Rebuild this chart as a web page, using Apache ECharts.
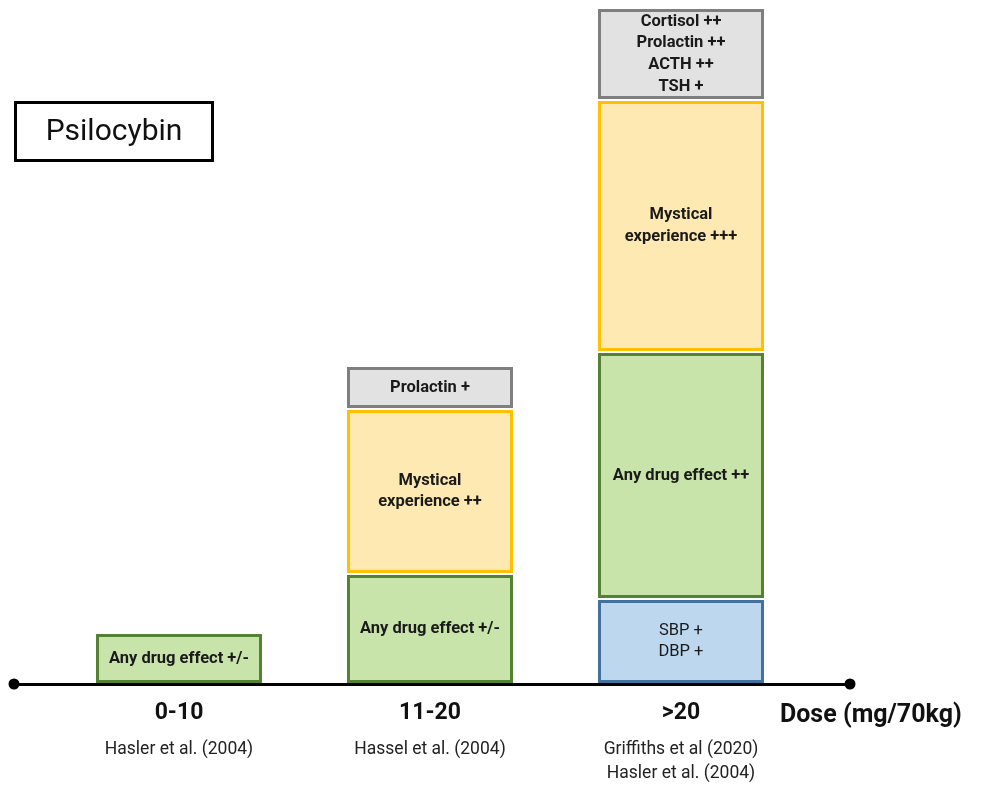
<!DOCTYPE html>
<html>
<head>
<meta charset="utf-8">
<script src="https://cdn.jsdelivr.net/npm/echarts@6/dist/echarts.min.js"></script>
<style>
html,body{margin:0;padding:0;background:#fff;}
#chart{width:983px;height:787px;}
</style>
</head>
<body>
<div id="chart"></div>
<script>
// ---- data ----
const categories = ['0-10', '11-20', '>20'];
const references = ['Hasler et al. (2004)', 'Hassel et al. (2004)', 'Griffiths et al (2020)\nHasler et al. (2004)'];
// stacked box heights (bottom to top), per dose category
const bloodPressure = [0, 0, 85];
const anyDrugEffect = [51, 110, 247];
const mysticalExperience = [0, 165, 252];
const hormones = [0, 43, 92];
const bloodPressureLabels = ['', '', 'SBP +\nDBP +'];
const anyDrugEffectLabels = ['Any drug effect +/-', 'Any drug effect +/-', 'Any drug effect ++'];
const mysticalExperienceLabels = ['', 'Mystical\nexperience ++', 'Mystical\nexperience +++'];
const hormoneLabels = ['', 'Prolactin +', 'Cortisol ++\nProlactin ++\nACTH ++\nTSH +'];
const chartTitle = 'Psilocybin';
const axisName = 'Dose (mg/70kg)';

const FONT = 'Roboto, "DejaVu Sans", sans-serif';
const BAR_W = 168;

const layers = [
  { name: 'Blood pressure', values: bloodPressure, labels: bloodPressureLabels, fill: '#bdd7ee', stroke: '#41719c', weight: 'normal' },
  { name: 'Any drug effect', values: anyDrugEffect, labels: anyDrugEffectLabels, fill: '#c9e4aa', stroke: '#548235', weight: 'bold' },
  { name: 'Mystical experience', values: mysticalExperience, labels: mysticalExperienceLabels, fill: '#fee9b2', stroke: '#ffc000', weight: 'bold' },
  { name: 'Hormones', values: hormones, labels: hormoneLabels, fill: '#e2e2e2', stroke: '#7f7f7f', weight: 'bold' }
];

const cumulative = categories.map(() => 0);
const series = layers.map(layer => {
  const data = [];
  layer.values.forEach((v, i) => {
    if (v > 0) {
      data.push({ value: [i, cumulative[i], cumulative[i] + v], text: layer.labels[i] });
    }
    cumulative[i] += v;
  });
  return {
    type: 'custom',
    name: layer.name,
    xAxisIndex: 0,
    yAxisIndex: 0,
    z: 3,
    data: data,
    renderItem: function (params, api) {
      const i = api.value(0), lo = api.value(1), hi = api.value(2);
      const pLo = api.coord([i, lo]);
      const pHi = api.coord([i, hi]);
      const inset = 2.5;
      const item = data[params.dataIndex];
      return {
        type: 'rect',
        shape: { x: pLo[0] - BAR_W / 2 + inset, y: pHi[1] + inset, width: BAR_W - 2 * inset, height: pLo[1] - pHi[1] - 2 * inset },
        style: { fill: layer.fill, stroke: layer.stroke, lineWidth: 3 },
        textContent: {
          style: { text: item.text, fontFamily: FONT, fontSize: 16.5, fontWeight: layer.weight, fill: '#1a1a1a', align: 'center', lineHeight: 21.7 }
        },
        textConfig: { position: 'inside' }
      };
    }
  };
});

const chart = echarts.init(document.getElementById('chart'));
chart.setOption({
  animation: false,
  backgroundColor: '#fff',
  grid: [
    { left: 53.5, right: 176.5, top: 0, bottom: 103 },
    { left: 14, right: 133, top: 0, bottom: 103 }
  ],
  xAxis: [
    {
      type: 'category', gridIndex: 0, data: categories,
      axisLine: { show: false }, axisTick: { show: false },
      axisLabel: {
        margin: 14,
        interval: 0,
        formatter: function (value, index) {
          return '{a|' + value + '}\n{s| }\n' + references[index].split('\n').map(l => '{b|' + l + '}').join('\n');
        },
        rich: {
          a: { fontFamily: FONT, fontSize: 23, fontWeight: 'bold', color: '#111', lineHeight: 30 },
          s: { fontSize: 1, lineHeight: 10 },
          b: { fontFamily: FONT, fontSize: 17.5, color: '#222', lineHeight: 24 }
        }
      }
    },
    {
      type: 'value', gridIndex: 1, min: 0, max: 1,
      axisLine: { show: true, symbol: ['circle', 'circle'], symbolSize: [11, 11], lineStyle: { color: '#000', width: 3 } },
      axisTick: { show: false }, axisLabel: { show: false }, splitLine: { show: false }
    }
  ],
  yAxis: [
    { type: 'value', gridIndex: 0, min: 0, max: 684, show: false },
    { type: 'value', gridIndex: 1, min: 0, max: 1, show: false }
  ],
  graphic: [
    {
      type: 'group', left: 14, top: 101,
      children: [
        { type: 'rect', shape: { x: 1.5, y: 1.5, width: 197, height: 58 }, style: { fill: '#fff', stroke: '#000', lineWidth: 3 } },
        { type: 'text', x: 100, y: 31, style: { text: chartTitle, fontFamily: FONT, fontSize: 30, fill: '#111', align: 'center', verticalAlign: 'middle' } }
      ]
    },
    {
      type: 'text', x: 780, y: 716,
      style: { text: axisName, fontFamily: FONT, fontSize: 25, fontWeight: 'bold', fill: '#111', align: 'left', verticalAlign: 'middle' }
    }
  ],
  series: series
});
</script>
</body>
</html>
